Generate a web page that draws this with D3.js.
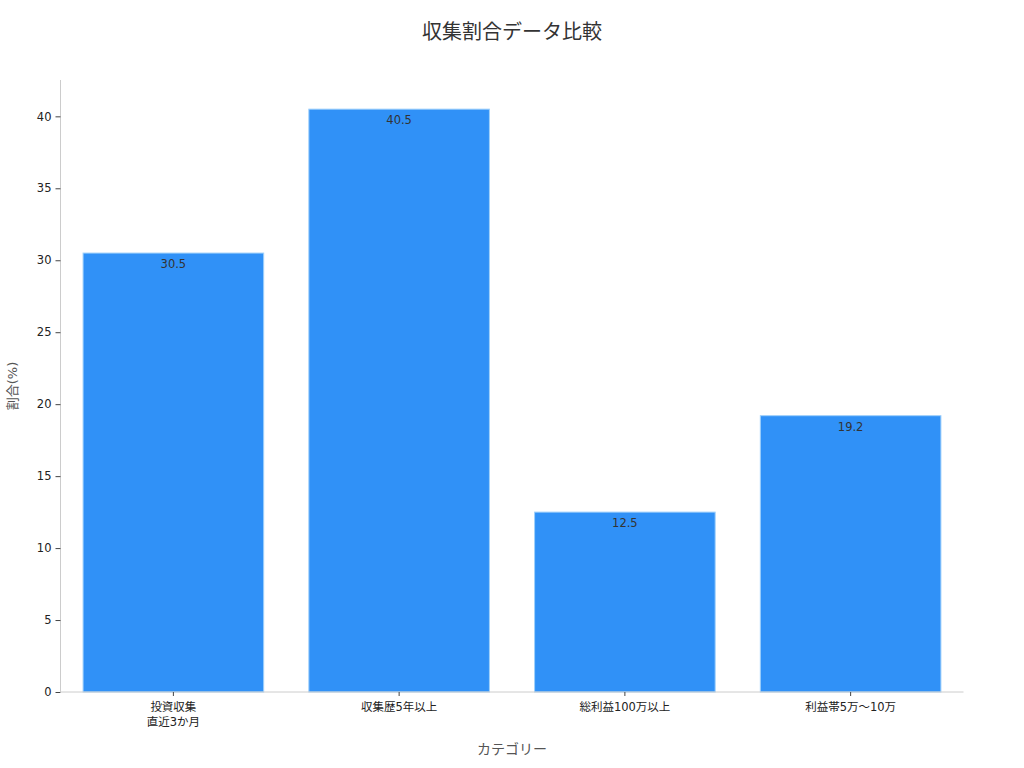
<!DOCTYPE html>
<html><head><meta charset="utf-8">
<script src="https://cdn.jsdelivr.net/npm/d3@7"></script>
<style>body{margin:0;background:#fff;} text{font-family:"DejaVu Sans","Noto Sans CJK JP",sans-serif;}</style>
</head><body>
<svg id="c" width="1024" height="768"></svg>
<script>
const categories = ["投資収集\n直近3か月", "収集歴5年以上", "総利益100万以上", "利益帯5万〜10万"];
const values = [30.5, 40.5, 12.5, 19.2];
const yTicks = [0, 5, 10, 15, 20, 25, 30, 35, 40];
const title = "収集割合データ比較";
const xTitle = "カテゴリー";
const yTitle = "割合(%)";

const svg = d3.select("#c");
const m = {l: 60.5, r: 963.5, t: 80, b: 692};
const font = '"DejaVu Sans","Noto Sans CJK JP",sans-serif';

const x = d3.scaleBand().domain(categories).range([m.l, m.r]).paddingInner(0.2).paddingOuter(0.1);
const y = d3.scaleLinear().domain([0, d3.max(values) * 1.05]).range([m.b, m.t]);

svg.append("text").attr("x", 512).attr("y", 39).attr("text-anchor", "middle")
  .attr("font-size", 20).attr("fill", "#333").style("font-family", font).text(title);

svg.selectAll("rect.bar").data(values).join("rect").attr("class", "bar")
  .attr("x", (d, i) => x(categories[i])).attr("width", x.bandwidth())
  .attr("y", d => y(d)).attr("height", d => y(0) - y(d))
  .attr("fill", "#3091f7").attr("stroke", "#9fd0fb").attr("stroke-width", 1);

svg.selectAll("text.lbl").data(values).join("text").attr("class", "lbl")
  .attr("x", (d, i) => x(categories[i]) + x.bandwidth() / 2).attr("y", d => y(d) + 15)
  .attr("text-anchor", "middle").attr("font-size", 11.5).attr("fill", "#333")
  .style("font-family", font).text(d => d.toFixed(1));

// Y axis
const ya = svg.append("g").attr("transform", `translate(${m.l},0)`)
  .call(d3.axisLeft(y).tickValues(yTicks).tickSize(5).tickPadding(4));
ya.select(".domain").attr("stroke", "#ccc").attr("d", `M0,${m.t}V${m.b}`);
ya.selectAll(".tick line").attr("stroke", "#444");
ya.selectAll(".tick text").attr("font-size", 11.5).attr("fill", "#222").style("font-family", font);

// X axis
const xa = svg.append("g").attr("transform", `translate(0,${m.b})`)
  .call(d3.axisBottom(x).tickSize(4).tickPadding(7));
xa.select(".domain").attr("stroke", "#ccc").attr("d", `M${m.l},0H${m.r}`);
xa.selectAll(".tick line").attr("stroke", "#444");
xa.selectAll(".tick text").attr("font-size", 11.5).attr("fill", "#222").style("font-family", font)
  .each(function(d) {
    const t = d3.select(this); const lines = d.split("\n"); t.text(null);
    lines.forEach((s, i) => t.append("tspan").attr("x", 0).attr("dy", i === 0 ? "0.71em" : "1.3em").text(s));
  });

svg.append("text").attr("x", 512).attr("y", 754).attr("text-anchor", "middle")
  .attr("font-size", 14).attr("fill", "#555").style("font-family", font).text(xTitle);
svg.append("text").attr("transform", "translate(17,386) rotate(-90)").attr("text-anchor", "middle")
  .attr("font-size", 13).attr("fill", "#555").style("font-family", font).text(yTitle);
</script>
</body></html>
